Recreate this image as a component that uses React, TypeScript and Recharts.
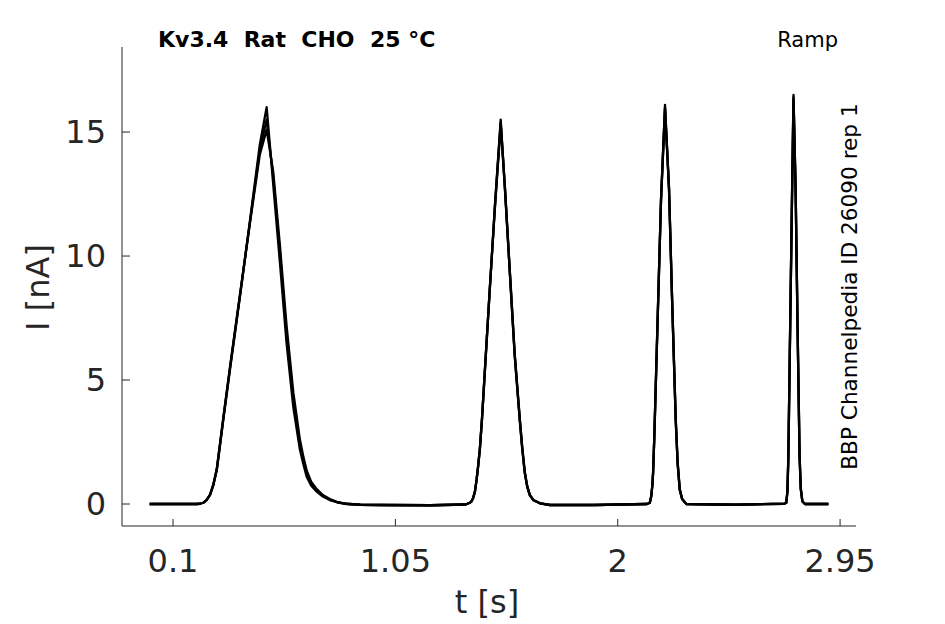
import React from "react";
import { LineChart, Line, XAxis, YAxis } from "recharts";

// time [s]
const timeS = [
  0, 0.2, 0.215, 0.229, 0.243, 0.258, 0.272, 0.287, 0.3, 0.315, 0.343, 0.386, 0.429, 0.471, 0.5,
  0.528, 0.557, 0.585, 0.614, 0.642, 0.657, 0.671, 0.69, 0.714, 0.74, 0.77, 0.8, 0.84, 0.9, 0.984,
  1.2, 1.35, 1.368, 1.375, 1.382, 1.39, 1.397, 1.404, 1.411, 1.42, 1.432, 1.453, 1.475, 1.5,
  1.518, 1.539, 1.56, 1.582, 1.592, 1.603, 1.613, 1.624, 1.64, 1.667, 1.71, 1.9,
  2.125, 2.137, 2.143, 2.148, 2.151, 2.156, 2.162, 2.174, 2.185, 2.202, 2.219, 2.233, 2.248, 2.256, 2.265, 2.275, 2.293,
  2.5, 2.712, 2.72, 2.725, 2.729, 2.737, 2.746, 2.751, 2.76, 2.768, 2.777, 2.782, 2.789, 2.8, 2.9,
];

// current [nA], repetition 1
const rep1 = [
  0, 0, 0.01, 0.05, 0.15, 0.36, 0.75, 1.37, 2.3, 3.4, 5.4, 8.36, 11.45, 14.5, 16.0,
  12.9, 9.7, 6.5, 3.9, 2.2, 1.6, 1.1, 0.75, 0.5, 0.3, 0.16, 0.07, 0, -0.03, -0.04,
  -0.05, -0.02, 0.05, 0.1, 0.23, 0.5, 0.97, 1.55, 2.2, 3.4, 5.3, 8.6, 12.0, 15.5,
  12.7, 9.3, 5.94, 3.3, 2.2, 1.24, 0.7, 0.36, 0.15, 0.03, -0.04, -0.04,
  0, 0.05, 0.3, 0.75, 1.24, 2.6, 4.6, 8.6, 12.3, 16.1, 12.7, 7.96, 3.3, 1.6, 0.56, 0.2, 0,
  -0.03, 0.01, 0.05, 0.5, 1.9, 7.3, 13.3, 16.5, 12.7, 7.3, 1.9, 0.6, 0.1, 0, 0,
];

// current [nA], repetition 2
const rep2 = [
  0, 0, 0.01, 0.05, 0.16, 0.37, 0.77, 1.4, 2.35, 3.45, 5.45, 8.4, 11.4, 14.3, 15.5,
  13.2, 10.1, 6.9, 4.2, 2.45, 1.75, 1.25, 0.85, 0.55, 0.33, 0.18, 0.08, 0.01, -0.03, -0.04,
  -0.05, -0.02, 0.05, 0.1, 0.23, 0.5, 0.98, 1.56, 2.22, 3.42, 5.3, 8.6, 11.95, 15.4,
  12.75, 9.35, 6.0, 3.35, 2.25, 1.26, 0.72, 0.37, 0.15, 0.03, -0.04, -0.04,
  0, 0.05, 0.3, 0.76, 1.25, 2.6, 4.6, 8.6, 12.3, 16.0, 12.75, 8.0, 3.35, 1.65, 0.58, 0.2, 0,
  -0.03, 0.01, 0.05, 0.5, 1.9, 7.3, 13.3, 16.4, 12.7, 7.35, 1.92, 0.62, 0.1, 0, 0,
];

// current [nA], repetition 3
const rep3 = [
  0, 0, 0.01, 0.05, 0.16, 0.38, 0.78, 1.42, 2.38, 3.5, 5.5, 8.45, 11.35, 14.1, 15.1,
  13.4, 10.4, 7.2, 4.5, 2.6, 1.9, 1.35, 0.9, 0.6, 0.36, 0.2, 0.09, 0.01, -0.03, -0.04,
  -0.05, -0.02, 0.05, 0.11, 0.24, 0.52, 0.99, 1.58, 2.25, 3.45, 5.35, 8.65, 11.9, 15.3,
  12.8, 9.4, 6.05, 3.4, 2.3, 1.3, 0.74, 0.38, 0.16, 0.04, -0.04, -0.04,
  0, 0.05, 0.31, 0.77, 1.26, 2.65, 4.65, 8.65, 12.25, 15.9, 12.8, 8.05, 3.4, 1.7, 0.6, 0.21, 0,
  -0.03, 0.01, 0.05, 0.52, 1.92, 7.35, 13.25, 16.3, 12.75, 7.4, 1.95, 0.64, 0.11, 0, 0,
];

const xTicks = [0.1, 1.05, 2, 2.95];
const yTicks = [0, 5, 10, 15];

const titleText = "Kv3.4  Rat  CHO  25 °C";
const protocolText = "Ramp";
const sourceText = "BBP Channelpedia ID 26090 rep 1";
const xLabel = "t [s]";
const yLabel = "I [nA]";

const data = timeS.map((t, i) => ({ t, rep1: rep1[i], rep2: rep2[i], rep3: rep3[i] }));

const AXIS = "#262626";
const FONT = "DejaVu Sans";

export default function App() {
  return (
    <div style={{ position: "absolute", left: 0, top: 0, width: 945, height: 624, background: "#fff" }}>
      <LineChart
        width={945}
        height={624}
        data={data}
        margin={{ top: 47, right: 89, bottom: 0, left: 0 }}
      >
        <XAxis
          dataKey="t"
          type="number"
          domain={[-0.118, 3.018]}
          ticks={xTicks}
          height={98}
          tickSize={-7}
          tickMargin={30}
          axisLine={{ stroke: AXIS, strokeWidth: 1 }}
          tickLine={{ stroke: AXIS, strokeWidth: 1 }}
          tick={{ fill: AXIS, fontSize: 32, fontFamily: FONT }}
          interval={0}
        />
        <YAxis
          type="number"
          domain={[-0.887, 18.43]}
          ticks={yTicks}
          width={122}
          tickSize={-8}
          tickMargin={24}
          axisLine={{ stroke: AXIS, strokeWidth: 1 }}
          tickLine={{ stroke: AXIS, strokeWidth: 1 }}
          tick={{ fill: AXIS, fontSize: 32, fontFamily: FONT }}
          interval={0}
        />
        <Line type="linear" dataKey="rep3" stroke="#000" strokeWidth={2.3} strokeLinejoin="round" dot={false} isAnimationActive={false} />
        <Line type="linear" dataKey="rep2" stroke="#000" strokeWidth={2.3} strokeLinejoin="round" dot={false} isAnimationActive={false} />
        <Line type="linear" dataKey="rep1" stroke="#000" strokeWidth={2.3} strokeLinejoin="round" dot={false} isAnimationActive={false} />
      </LineChart>
      <svg
        width={945}
        height={624}
        style={{ position: "absolute", left: 0, top: 0, pointerEvents: "none" }}
      >
        <text x={158} y={47} fontFamily={FONT} fontWeight="bold" fontSize={22} fill="#000" style={{ whiteSpace: "pre" }}>
          {titleText}
        </text>
        <text x={838} y={47} textAnchor="end" fontFamily={FONT} fontSize={21} fill="#000">
          {protocolText}
        </text>
        <text
          x={857}
          y={286.5}
          textAnchor="middle"
          fontFamily={FONT}
          fontSize={21.6}
          fill="#000"
          transform="rotate(-90 857 286.5)"
        >
          {sourceText}
        </text>
        <text x={487} y={613} textAnchor="middle" fontFamily={FONT} fontSize={32} fill={AXIS}>
          {xLabel}
        </text>
        <text
          x={49}
          y={287.5}
          textAnchor="middle"
          fontFamily={FONT}
          fontSize={32}
          fill={AXIS}
          transform="rotate(-90 49 287.5)"
        >
          {yLabel}
        </text>
      </svg>
    </div>
  );
}
